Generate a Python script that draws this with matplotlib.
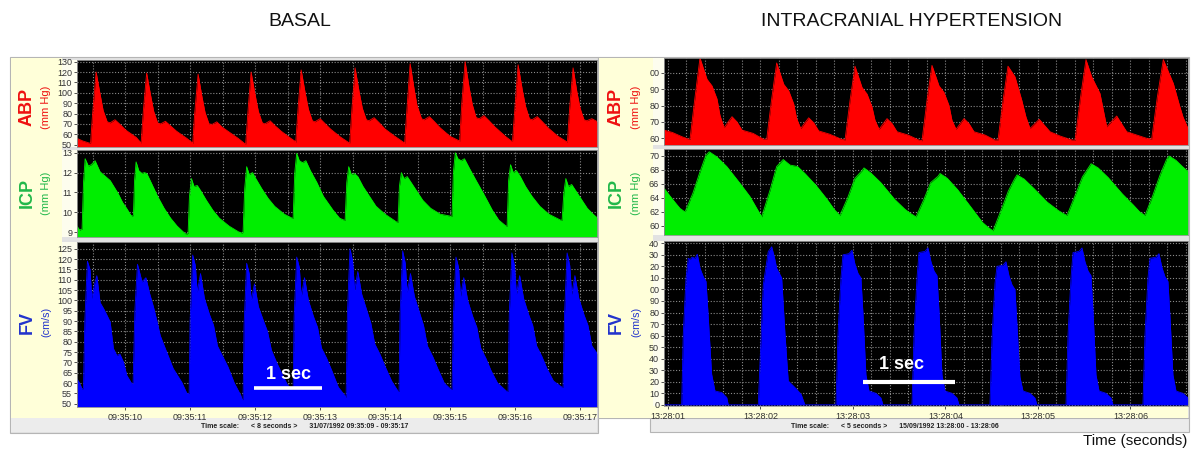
import numpy as np
import matplotlib.pyplot as plt
from matplotlib.patches import Rectangle

plt.rcParams['font.family'] = ['Liberation Sans', 'DejaVu Sans']

W, H = 1191, 457

# ---- basal recording: (seconds after 09:35:09, value) ----
basal_abp = [
    (0.26, 56), (0.35, 53.5), (0.45, 51.5),
    (0.469, 51.5), (0.50, 80), (0.554, 120), (0.614, 99), (0.662, 83), (0.724, 72), (0.769, 71), (0.844, 74), (0.93, 69), (1.01, 64), (1.17, 57), (1.24, 52),
    (1.246, 51.5), (1.28, 82), (1.331, 119), (1.391, 98), (1.44, 82), (1.50, 71), (1.546, 70), (1.62, 72.5), (1.70, 68), (1.79, 63), (1.95, 56), (2.03, 52),
    (2.04, 51), (2.07, 80), (2.123, 118), (2.18, 97), (2.23, 81), (2.29, 70), (2.34, 69.5), (2.41, 72), (2.49, 67), (2.58, 63), (2.74, 56), (2.84, 51),
    (2.855, 50.5), (2.89, 82), (2.938, 120), (3.00, 98), (3.05, 82), (3.11, 71), (3.15, 70), (3.23, 73), (3.31, 68), (3.40, 63), (3.55, 56), (3.62, 53),
    (3.625, 52), (3.66, 84), (3.708, 122), (3.77, 100), (3.82, 84), (3.88, 73), (3.92, 72), (4.00, 75), (4.08, 70), (4.16, 65), (4.32, 57), (4.44, 52),
    (4.455, 51.5), (4.49, 85), (4.538, 124), (4.60, 101), (4.65, 85), (4.71, 74), (4.75, 73), (4.83, 76), (4.91, 71), (5.00, 65), (5.15, 58), (5.29, 52),
    (5.30, 51), (5.34, 88), (5.385, 128), (5.445, 104), (5.49, 88), (5.56, 75), (5.60, 74), (5.68, 77), (5.76, 72), (5.85, 66), (6.00, 58), (6.13, 54),
    (6.146, 53), (6.18, 90), (6.231, 130), (6.29, 106), (6.34, 89), (6.40, 76), (6.45, 75), (6.52, 78), (6.60, 73), (6.69, 67), (6.85, 58), (6.94, 53.6),
    (6.96, 53), (7.00, 88), (7.046, 127), (7.11, 103), (7.16, 87), (7.22, 75), (7.26, 74), (7.34, 77), (7.42, 72), (7.51, 66), (7.66, 58), (7.79, 53),
    (7.805, 52.5), (7.84, 86), (7.892, 124), (7.95, 101), (8.00, 85), (8.06, 74), (8.10, 73), (8.18, 75), (8.27, 72),
]
basal_icp = [
    (0.26, 9.3), (0.30, 9.1),
    (0.338, 9.15), (0.36, 11.5), (0.385, 12.7), (0.435, 12.33), (0.48, 12.4), (0.538, 12.6), (0.615, 12.04), (0.70, 11.8), (0.77, 11.6), (0.89, 10.96), (0.96, 10.5), (1.026, 10.18), (1.088, 9.85), (1.11, 9.8),
    (1.128, 9.85), (1.145, 11.6), (1.169, 12.54), (1.21, 12.1), (1.257, 11.96), (1.30, 12.0), (1.334, 11.95), (1.40, 11.5), (1.50, 10.8), (1.60, 10.2), (1.70, 9.7), (1.80, 9.3), (1.923, 8.92), (1.95, 8.9),
    (1.969, 8.95), (1.99, 10.8), (2.02, 11.7), (2.06, 11.3), (2.11, 11.35), (2.16, 11.1), (2.25, 10.6), (2.35, 10.1), (2.45, 9.7), (2.60, 9.3), (2.75, 9.0), (2.80, 8.95),
    (2.815, 9.0), (2.84, 11.2), (2.87, 12.3), (2.91, 11.9), (2.96, 12.0), (3.01, 11.7), (3.10, 11.2), (3.20, 10.7), (3.30, 10.3), (3.45, 9.9), (3.57, 9.7),
    (3.585, 9.7), (3.61, 12.0), (3.64, 12.97), (3.68, 12.6), (3.73, 12.5), (3.78, 12.6), (3.85, 12.1), (3.95, 11.5), (4.05, 10.8), (4.20, 10.1), (4.30, 9.7), (4.37, 9.6),
    (4.385, 9.6), (4.41, 11.5), (4.44, 12.3), (4.48, 11.9), (4.53, 11.95), (4.58, 11.8), (4.66, 11.3), (4.76, 10.8), (4.86, 10.3), (5.00, 9.9), (5.18, 9.5),
    (5.20, 9.5), (5.22, 11.3), (5.25, 12.0), (5.29, 11.7), (5.34, 11.8), (5.40, 11.5), (5.48, 11.1), (5.58, 10.6), (5.70, 10.2), (5.85, 9.9), (6.01, 9.8),
    (6.03, 9.8), (6.05, 12.0), (6.08, 13.0), (6.12, 12.7), (6.17, 12.6), (6.22, 12.7), (6.30, 12.2), (6.40, 11.6), (6.52, 10.9), (6.65, 10.1), (6.75, 9.6), (6.86, 9.3),
    (6.877, 9.3), (6.90, 11.6), (6.93, 12.4), (6.97, 12.0), (7.02, 12.1), (7.08, 11.8), (7.16, 11.3), (7.26, 10.8), (7.38, 10.3), (7.52, 9.9), (7.70, 9.6),
    (7.723, 9.6), (7.75, 11.0), (7.78, 11.7), (7.82, 11.3), (7.87, 11.4), (7.93, 11.1), (8.01, 10.7), (8.11, 10.2), (8.20, 9.9), (8.27, 9.7),
]
basal_fv = [
    (0.26, 62), (0.30, 60), (0.34, 57),
    (0.359, 57.5), (0.38, 90), (0.42, 119), (0.46, 115), (0.488, 101), (0.53, 108), (0.565, 112), (0.615, 99), (0.67, 96), (0.718, 93), (0.77, 89.6), (0.82, 76.7), (0.872, 73.4), (0.92, 74), (0.974, 70.2), (1.026, 63.7), (1.103, 59.7),
    (1.123, 60), (1.15, 95), (1.19, 117.5), (1.22, 114), (1.26, 109), (1.32, 111), (1.38, 103), (1.435, 97), (1.49, 90), (1.54, 83), (1.64, 75), (1.74, 67), (1.87, 60.5), (1.95, 55),
    (1.985, 55), (2.00, 90), (2.04, 122), (2.08, 117), (2.11, 104), (2.16, 113), (2.22, 101), (2.30, 93), (2.36, 88), (2.42, 78), (2.50, 73), (2.58, 68), (2.68, 60), (2.78, 54), (2.80, 52),
    (2.815, 52), (2.83, 88), (2.87, 118), (2.91, 113), (2.94, 100), (2.99, 108), (3.05, 97), (3.13, 90), (3.19, 85), (3.25, 76), (3.33, 70), (3.42, 64), (3.50, 59), (3.57, 57),
    (3.585, 57), (3.60, 92), (3.64, 121), (3.68, 116), (3.71, 102), (3.76, 111), (3.82, 100), (3.90, 92), (3.96, 87), (4.02, 77), (4.10, 72), (4.18, 66), (4.28, 58), (4.38, 54),
    (4.40, 53), (4.42, 94), (4.46, 125), (4.50, 119), (4.53, 105), (4.58, 114), (4.64, 103), (4.72, 95), (4.78, 89), (4.84, 79), (4.92, 74), (5.00, 68), (5.10, 61), (5.20, 56),
    (5.215, 56), (5.23, 93), (5.27, 124), (5.31, 118), (5.34, 104), (5.39, 113), (5.45, 102), (5.53, 94), (5.59, 88), (5.65, 78), (5.73, 73), (5.81, 67), (5.91, 60), (6.01, 57),
    (6.03, 57), (6.05, 92), (6.09, 121), (6.13, 116), (6.16, 102), (6.21, 111), (6.27, 100), (6.35, 92), (6.41, 87), (6.47, 77), (6.55, 72), (6.63, 66), (6.73, 60), (6.87, 56),
    (6.892, 56), (6.91, 93), (6.95, 123), (6.99, 117), (7.02, 103), (7.07, 112), (7.13, 101), (7.21, 93), (7.27, 88), (7.33, 78), (7.41, 73), (7.49, 67), (7.59, 61), (7.72, 58),
    (7.738, 58), (7.76, 93), (7.80, 123), (7.84, 117), (7.87, 103), (7.92, 112), (7.98, 101), (8.06, 93), (8.12, 88), (8.18, 78), (8.27, 74),
]

# ---- intracranial hypertension: (seconds after 13:28:00, value) ----
htic_abp = [
    (0.957, 65), (1.05, 63.5), (1.15, 61), (1.225, 59.4),
    (1.238, 59.5), (1.292, 85), (1.346, 109), (1.422, 96), (1.476, 92), (1.53, 84), (1.562, 74), (1.606, 66.5), (1.692, 73.2), (1.746, 70), (1.80, 65), (1.92, 63), (2.03, 59.5),
    (2.067, 59.4), (2.121, 84), (2.175, 106), (2.251, 93), (2.305, 89), (2.359, 81), (2.391, 72), (2.435, 66), (2.521, 72.5), (2.575, 69.5), (2.629, 64.5), (2.748, 62.5), (2.87, 59.5),
    (2.914, 59), (2.968, 83), (3.022, 104), (3.098, 91), (3.152, 87), (3.206, 79), (3.238, 71), (3.282, 65.5), (3.368, 72), (3.422, 69), (3.476, 64), (3.595, 62), (3.71, 59),
    (3.746, 58.5), (3.80, 83), (3.854, 104.5), (3.93, 92), (3.984, 88), (4.038, 80), (4.07, 71), (4.114, 65.5), (4.20, 72), (4.254, 69), (4.308, 64), (4.427, 62), (4.53, 59),
    (4.568, 59), (4.622, 83), (4.676, 104), (4.751, 97.6), (4.824, 83.4), (4.87, 73), (4.914, 66), (5.014, 71.6), (5.13, 64), (5.238, 61.4), (5.364, 59), (5.40, 58.8),
    (5.46, 85), (5.519, 108), (5.58, 97.6), (5.67, 87.4), (5.743, 67), (5.851, 73.6), (5.959, 64), (6.175, 60), (6.229, 59.5),
    (6.29, 85), (6.355, 108), (6.463, 93.5), (6.53, 80), (6.568, 73), (6.622, 66),
]
htic_icp = [
    (0.957, 65.4), (1.02, 64.3), (1.08, 63.3), (1.13, 62.5),
    (1.184, 62.0), (1.27, 64.7), (1.34, 67.5), (1.41, 70.1), (1.446, 70.6), (1.526, 69.9), (1.635, 68.5), (1.778, 66.1), (1.886, 64.2), (1.96, 62.5),
    (2.013, 61.3), (2.103, 65.1), (2.175, 68.5), (2.246, 69.5), (2.319, 68.7), (2.40, 68.5), (2.48, 67.5), (2.60, 65.8), (2.72, 63.8), (2.80, 62.3),
    (2.859, 61.5), (2.945, 64.1), (3.02, 66.8), (3.097, 67.9), (3.119, 68.3), (3.19, 67.6), (3.30, 66.2), (3.45, 63.8), (3.56, 62.4), (3.62, 61.8),
    (3.681, 61.3), (3.767, 63.8), (3.84, 66.2), (3.92, 67.1), (3.941, 67.5), (4.02, 66.8), (4.13, 65.2), (4.28, 62.6), (4.40, 60.5), (4.46, 59.8),
    (4.514, 59.3), (4.60, 62.2), (4.68, 65.0), (4.75, 66.8), (4.774, 67.3), (4.85, 66.7), (4.96, 65.3), (5.10, 63.4), (5.22, 62.2), (5.27, 61.8),
    (5.314, 61.5), (5.40, 64.3), (5.48, 67.0), (5.55, 68.4), (5.574, 68.9), (5.65, 68.3), (5.76, 66.9), (5.91, 64.6), (6.03, 63.0), (6.10, 62.0),
    (6.157, 61.5), (6.24, 64.3), (6.32, 67.3), (6.39, 69.5), (6.417, 70.0), (6.49, 69.4), (6.56, 68.5), (6.622, 67.8),
]
htic_fv = [
    (0.957, 0),
    (1.148, 0), (1.165, 61), (1.195, 110), (1.219, 127), (1.24, 126), (1.26, 128), (1.292, 127), (1.317, 130.5), (1.346, 118.4), (1.382, 111), (1.411, 107), (1.436, 75), (1.472, 26.5), (1.508, 12), (1.581, 10.7), (1.635, 6.4), (1.652, 0),
    (1.976, 0), (2.03, 104), (2.084, 132.8), (2.121, 137), (2.15, 128), (2.175, 118.4), (2.229, 110), (2.265, 61), (2.30, 20.7), (2.355, 16.4), (2.391, 13.5), (2.44, 9), (2.48, 0),
    (2.816, 0), (2.838, 61), (2.87, 110), (2.892, 130), (2.956, 131), (2.989, 134), (3.021, 122), (3.054, 114), (3.086, 110), (3.108, 79), (3.14, 26), (3.173, 12), (3.248, 10), (3.302, 6), (3.324, 0),
    (3.638, 0), (3.66, 61), (3.692, 110), (3.714, 132), (3.778, 133), (3.811, 136), (3.843, 124), (3.876, 116), (3.908, 112), (3.93, 81), (3.962, 26), (3.995, 12), (4.07, 10), (4.124, 6), (4.146, 0),
    (4.481, 0), (4.503, 58), (4.535, 105), (4.557, 120), (4.621, 121), (4.654, 124), (4.686, 112), (4.719, 104), (4.751, 100), (4.773, 69), (4.805, 24), (4.838, 12), (4.913, 10), (4.967, 6), (4.989, 0),
    (5.303, 0), (5.325, 61), (5.357, 110), (5.379, 132), (5.443, 133), (5.476, 136), (5.508, 124), (5.541, 116), (5.573, 112), (5.595, 81), (5.627, 26), (5.66, 12), (5.735, 10), (5.789, 6), (5.811, 0),
    (6.135, 0), (6.157, 61), (6.189, 110), (6.211, 127), (6.275, 128), (6.308, 131), (6.34, 119), (6.373, 111), (6.405, 107), (6.427, 76), (6.459, 26), (6.492, 12), (6.567, 10), (6.622, 6),
]

basal_times = ['09:35:10', '09:35:11', '09:35:12', '09:35:13', '09:35:14', '09:35:15', '09:35:16', '09:35:17']
htic_times = ['13:28:01', '13:28:02', '13:28:03', '13:28:04', '13:28:05', '13:28:06']

basal_abp_ticks = [50, 60, 70, 80, 90, 100, 110, 120, 130]
basal_icp_ticks = [9, 10, 11, 12, 13]
basal_fv_ticks = list(range(50, 126, 5))
htic_abp_ticks = [60, 70, 80, 90, 100]
htic_abp_labels = ['60', '70', '80', '90', '00']
htic_icp_ticks = [60, 62, 64, 66, 68, 70]
htic_fv_ticks = list(range(0, 141, 10))
htic_fv_labels = ['0', '10', '20', '30', '40', '50', '60', '70', '80', '90', '00', '10', '20', '30', '40']

RED, GREEN, BLUE = '#ff0000', '#00ee00', '#0000ff'
YELLOW = '#ffffd9'

fig = plt.figure(figsize=(W / 100, H / 100), dpi=100)


def box(x0, y0, x1, y1, color, ec='none', z=-2):
    fig.add_artist(Rectangle((x0 / W, 1 - y1 / H), (x1 - x0) / W, (y1 - y0) / H,
                             transform=fig.transFigure, facecolor=color,
                             edgecolor=ec, lw=0.8, zorder=z))


def px_axes(x0, y0, x1, y1):
    return fig.add_axes([x0 / W, 1 - y1 / H, (x1 - x0) / W, (y1 - y0) / H])


def ftext(x, y, s, **kw):
    fig.text(x / W, 1 - y / H, s, **kw)


def trace(ax, data, color, ylim, yticks, ylabels, xlim, xminor, base=None):
    t, v = np.array(data).T
    ax.set_facecolor('black')
    ax.fill_between(t, v, ylim[0] if base is None else base, color=color, lw=0, zorder=2)
    ax.plot(t, v, color=color, lw=0.6, zorder=2)
    ax.set_xlim(xlim)
    ax.set_ylim(ylim)
    ax.set_yticks(yticks, ylabels if ylabels else [str(k) for k in yticks])
    ax.set_xticks(xminor, minor=True)
    ax.set_axisbelow(True)
    ax.grid(True, which='both', color='#8a8a8a', ls=(0, (1, 1.6)), lw=0.8)
    ax.tick_params(axis='y', labelsize=6.5, colors='#333333', length=2.5, width=0.6, pad=1)
    ax.tick_params(axis='x', which='both', length=0)
    for s in ax.spines.values():
        s.set_color('#9a9a9a')
        s.set_linewidth(0.6)


# ---------- panel backgrounds ----------
box(10, 57, 598, 433, '#e2e2e2', ec='#b5b5b5')
box(11, 58, 62, 418, YELLOW)
box(62, 407, 597, 418, YELLOW)
box(11, 418, 597, 432, '#ececec')
for y0, y1 in [(60, 147), (150, 237), (242, 407)]:
    box(62, y0, 77, y1, '#fdfdee')

box(598, 57, 1189, 418, '#e2e2e2', ec='#b5b5b5')
box(650, 418, 1189, 432, '#ececec', ec='#b5b5b5')
box(599, 58, 653, 418, YELLOW)
box(653, 406, 1188, 418, YELLOW)
for y0, y1 in [(58, 145), (149, 235), (241, 406)]:
    box(653, y0, 664, y1, '#fdfdee')

# ---------- basal ----------
bx = (0.26, 8.26)
bminor = np.arange(0.5, 8.3, 0.5)
ax1 = px_axes(77, 60, 597, 147)
trace(ax1, basal_abp, RED, (47.7, 131.6), basal_abp_ticks, None, bx, bminor)
ax1.set_xticks(range(1, 9), [])
ax2 = px_axes(77, 150, 597, 237)
trace(ax2, basal_icp, GREEN, (8.75, 13.14), basal_icp_ticks, None, bx, bminor)
ax2.set_xticks(range(1, 9), [])
ax3 = px_axes(77, 242, 597, 407)
trace(ax3, basal_fv, BLUE, (48.4, 128.3), basal_fv_ticks, None, bx, bminor)
ax3.set_xticks(range(1, 9), basal_times)
ax3.tick_params(axis='x', which='major', length=2.5, width=0.6, labelsize=6.5,
                colors='#333333', pad=1.5)
ax3.plot([2.985, 4.026], [57.8, 57.8], color='white', lw=2.6, solid_capstyle='butt', zorder=4)
ax3.text(3.515, 64.3, '1 sec', color='white', fontsize=13, fontweight='bold',
         ha='center', va='center', zorder=4)

# ---------- intracranial hypertension ----------
hx = (0.957, 6.622)
hminor = np.arange(1.0, 6.63, 0.2)
ax4 = px_axes(664, 58, 1188, 145)
trace(ax4, htic_abp, RED, (55.9, 109), htic_abp_ticks, htic_abp_labels, hx, hminor)
ax4.set_xticks(range(1, 7), [])
ax5 = px_axes(664, 149, 1188, 235)
trace(ax5, htic_icp, GREEN, (58.7, 71.0), htic_icp_ticks, None, hx, hminor)
ax5.set_xticks(range(1, 7), [])
ax6 = px_axes(664, 241, 1188, 406)
trace(ax6, htic_fv, BLUE, (-1, 142), htic_fv_ticks, htic_fv_labels, hx, hminor, base=0)
ax6.set_xticks(range(1, 7), htic_times)
ax6.tick_params(axis='x', which='major', length=2.5, width=0.6, labelsize=6.5,
                colors='#333333', pad=1.5)
ax6.plot([3.11, 4.10], [19.6, 19.6], color='white', lw=3, solid_capstyle='butt', zorder=4)
ax6.text(3.52, 35, '1 sec', color='white', fontsize=13, fontweight='bold',
         ha='center', va='center', zorder=4)

# ---------- channel labels ----------
labels = [
    ('ABP', '(mm Hg)', '#ee1111', 107, 8),
    ('ICP', '(mm Hg)', '#22b84a', 193, 8),
    ('FV', '(cm/s)', '#2233cc', 322, 7.8),
]
for name, unit, col, yc, us in labels:
    for xa, xu in [(27, 46), (616, 636)]:
        ftext(xa, yc, name, color=col, fontsize=13, fontweight='bold',
              rotation=90, ha='center', va='center')
        ftext(xu, yc, unit, color=col, fontsize=us, rotation=90, ha='center', va='center')

# ---------- titles and footers ----------
ftext(300, 22, 'BASAL', fontsize=14, ha='center', va='center', color='#111111')
ftext(912, 22, 'INTRACRANIAL HYPERTENSION', fontsize=14, ha='center', va='center', color='#111111')
ftext(305, 426, 'Time scale:      < 8 seconds >      31/07/1992 09:35:09 - 09:35:17',
      fontsize=5, fontweight='bold', ha='center', va='center', color='#222222')
ftext(895, 427, 'Time scale:      < 5 seconds >      15/09/1992 13:28:00 - 13:28:06',
      fontsize=5, fontweight='bold', ha='center', va='center', color='#222222')
ftext(1187, 441, 'Time (seconds)', fontsize=11, ha='right', va='center', color='#111111')

fig.savefig('out.png', dpi=100)
